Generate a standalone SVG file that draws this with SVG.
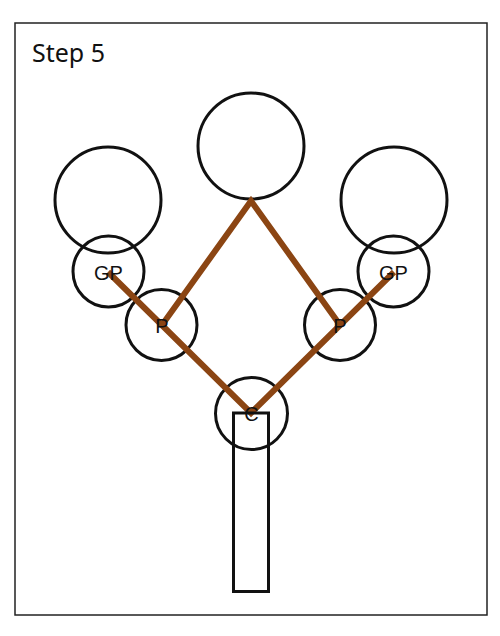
<svg xmlns="http://www.w3.org/2000/svg" width="500" height="636" viewBox="0 0 500 636">
<style>
.frame{fill:#fff;stroke:#222;stroke-width:1.5}
.node{fill:none;stroke:#111;stroke-width:3}
.link{stroke:#8B4513;stroke-width:6;stroke-linecap:butt;fill:none}
.lbl{font-family:"Liberation Sans",Arial,sans-serif;font-size:20px;fill:#111;text-anchor:middle}
.title{font-family:"Noto Sans","Open Sans",sans-serif;font-size:25px;fill:#111}
</style>
<rect class="frame" x="15" y="23" width="472" height="592"/>
<text class="title" x="32" y="62">Step 5</text>
<g id="top"><circle class="node" cx="251" cy="146" r="53"/></g>
<g id="leftTop"><circle class="node" cx="108" cy="200" r="53"/></g>
<g id="rightTop"><circle class="node" cx="394" cy="200" r="53"/></g>
<g id="gpLeft"><circle class="node" cx="108.5" cy="271.5" r="35.5"/></g>
<g id="gpRight"><circle class="node" cx="393.5" cy="271.5" r="35.5"/></g>
<g id="pLeft"><circle class="node" cx="161.5" cy="325" r="35.5"/></g>
<g id="pRight"><circle class="node" cx="340" cy="325" r="35.5"/></g>
<g id="c"><circle class="node" cx="251.5" cy="413.5" r="36"/></g>
<g id="connectors">
<polyline class="link" points="162,325 251,201 340,325"/>
<polyline class="link" points="108,272 251,413 394,272"/>
</g>
<g id="trunk"><rect class="node" x="233.5" y="413" width="35" height="178.5"/></g>
<g id="labels">
<text class="lbl" x="108.5" y="280">GP</text>
<text class="lbl" x="393.5" y="280">GP</text>
<text class="lbl" x="162" y="333">P</text>
<text class="lbl" x="340" y="333">P</text>
<text class="lbl" x="251.5" y="421">C</text>
</g>
</svg>
